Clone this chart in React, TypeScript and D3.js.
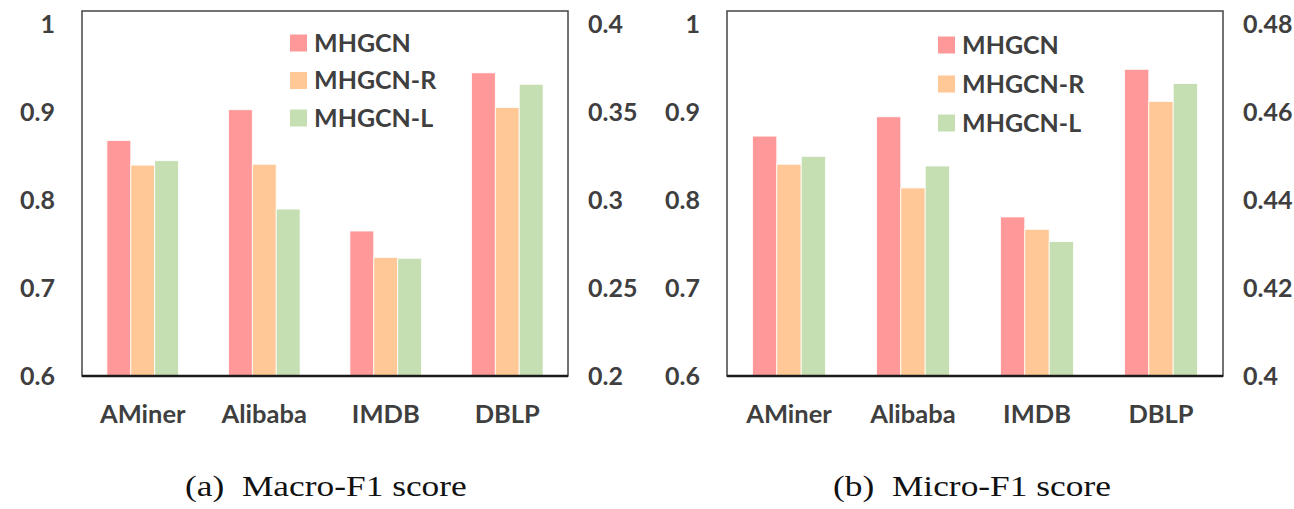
import React from "react";
import * as d3 from "d3";

const categories = ["AMiner", "Alibaba", "IMDB", "DBLP"];
const seriesNames = ["MHGCN", "MHGCN-R", "MHGCN-L"];
const seriesColors = ["#FF9999", "#FFC896", "#C5DFB3"];

// Macro-F1 (AMiner, Alibaba, IMDB on left axis; DBLP on right axis)
const macroMHGCN = [0.868, 0.903, 0.765, 0.3725];
const macroR = [0.84, 0.841, 0.735, 0.3528];
const macroL = [0.845, 0.79, 0.734, 0.366];
const macroLeftTicks = [0.6, 0.7, 0.8, 0.9, 1];
const macroRightTicks = [0.2, 0.25, 0.3, 0.35, 0.4];

// Micro-F1
const microMHGCN = [0.873, 0.895, 0.781, 0.4698];
const microR = [0.841, 0.814, 0.767, 0.4625];
const microL = [0.85, 0.839, 0.753, 0.4666];
const microLeftTicks = [0.6, 0.7, 0.8, 0.9, 1];
const microRightTicks = [0.4, 0.42, 0.44, 0.46, 0.48];

const rightAxisCategory = "DBLP";

const FONT = "Lato, 'Open Sans', sans-serif";
const TXT = "#3f3f3f";

type PanelProps = {
  x0: number;
  x1: number;
  series: number[][];
  leftTicks: number[];
  rightTicks: number[];
  caption: string;
  captionX: number;
  legendX: number;
  legendY: number;
  legendGap: number;
};

function Panel(p: PanelProps) {
  const top = 11;
  const bottom = 376;
  const yTop = 24.5;
  const yL = d3.scaleLinear().domain([p.leftTicks[0], p.leftTicks[p.leftTicks.length - 1]]).range([bottom, yTop]);
  const yR = d3.scaleLinear().domain([p.rightTicks[0], p.rightTicks[p.rightTicks.length - 1]]).range([bottom, yTop]);
  const x = d3.scaleBand<string>().domain(categories).range([p.x0, p.x1]).paddingInner(0.41).paddingOuter(0.205);
  const xs = d3.scaleBand<string>().domain(seriesNames).range([0, x.bandwidth()]);
  const fmt = (v: number) => String(v);
  return (
    <g>
      {categories.map((c, ci) => {
        const y = c === rightAxisCategory ? yR : yL;
        return seriesNames.map((s, si) => {
          const v = p.series[si][ci];
          const bx = (x(c) as number) + (xs(s) as number);
          return (
            <rect key={c + s} x={bx} y={y(v)} width={xs.bandwidth()} height={bottom - y(v)}
              fill={seriesColors[si]} stroke="#fff" strokeWidth={0.8} />
          );
        });
      })}
      <rect x={p.x0} y={top} width={p.x1 - p.x0} height={bottom - top} fill="none" stroke="#444" strokeWidth={1.5} />
      <line x1={p.x0} x2={p.x1} y1={bottom} y2={bottom} stroke="#1a1a1a" strokeWidth={2.5} />
      {p.leftTicks.map((t) => (
        <text key={"l" + t} x={p.x0 - 27} y={yL(t)} dy="0.35em" textAnchor="end" fontFamily={FONT} fontWeight={700} fontSize={25} fill={TXT}>{fmt(t)}</text>
      ))}
      {p.rightTicks.map((t) => (
        <text key={"r" + t} x={p.x1 + 20} y={yR(t)} dy="0.35em" textAnchor="start" fontFamily={FONT} fontWeight={700} fontSize={25} fill={TXT}>{fmt(t)}</text>
      ))}
      {categories.map((c) => (
        <text key={"c" + c} x={(x(c) as number) + x.bandwidth() / 2} y={414} dy="0.35em" textAnchor="middle" fontFamily={FONT} fontWeight={700} fontSize={25.5} fill={TXT}>{c}</text>
      ))}
      {seriesNames.map((s, i) => (
        <g key={"lg" + s}>
          <rect x={p.legendX} y={p.legendY + i * p.legendGap - 8.5} width={17} height={17} fill={seriesColors[i]} />
          <text x={p.legendX + 24} y={p.legendY + i * p.legendGap} dy="0.35em" fontFamily={FONT} fontWeight={700} fontSize={25} fill={TXT}>{s}</text>
        </g>
      ))}
      <g transform={`translate(${p.captionX},496) scale(1.22,1)`}>
        <text x={0} y={0} textAnchor="start"
          fontFamily="'Liberation Serif', 'DejaVu Serif', serif" fontSize={29} fill="#111" style={{ whiteSpace: "pre" }}>{p.caption}</text>
      </g>
    </g>
  );
}

export default function App() {
  return (
    <svg width={1294} height={509} style={{ position: "absolute", left: 0, top: 0, background: "#fff" }}>
      <rect width={1294} height={509} fill="#fff" />
      <Panel x0={82} x1={568} series={[macroMHGCN, macroR, macroL]} leftTicks={macroLeftTicks} rightTicks={macroRightTicks}
        caption="(a)  Macro-F1 score" captionX={185} legendX={290} legendY={43} legendGap={37.5} />
      <Panel x0={727} x1={1223} series={[microMHGCN, microR, microL]} leftTicks={microLeftTicks} rightTicks={microRightTicks}
        caption="(b)  Micro-F1 score" captionX={833} legendX={938} legendY={45} legendGap={39} />
    </svg>
  );
}
